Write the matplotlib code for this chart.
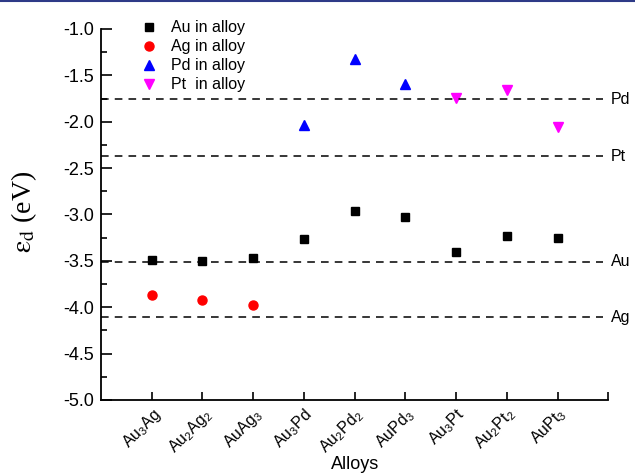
import matplotlib
matplotlib.use("Agg")
import matplotlib.pyplot as plt
from matplotlib.lines import Line2D
from matplotlib.ticker import MultipleLocator, FormatStrFormatter

plt.rcParams['font.family'] = ['Liberation Sans', 'DejaVu Sans']
plt.rcParams['mathtext.fontset'] = 'stix'

alloys = [r'Au$_\mathregular{3}$Ag', r'Au$_\mathregular{2}$Ag$_\mathregular{2}$', r'AuAg$_\mathregular{3}$',
          r'Au$_\mathregular{3}$Pd', r'Au$_\mathregular{2}$Pd$_\mathregular{2}$', r'AuPd$_\mathregular{3}$',
          r'Au$_\mathregular{3}$Pt', r'Au$_\mathregular{2}$Pt$_\mathregular{2}$', r'AuPt$_\mathregular{3}$']
au_x = [1, 2, 3, 4, 5, 6, 7, 8, 9]
au_vals = [-3.49, -3.50, -3.47, -3.26, -2.96, -3.03, -3.41, -3.23, -3.25]
ag_x = [1, 2, 3]
ag_vals = [-3.87, -3.92, -3.98]
pd_x = [4, 5, 6]
pd_vals = [-2.04, -1.32, -1.59]
pt_x = [7, 8, 9]
pt_vals = [-1.74, -1.66, -2.06]
ref_names = ['Pd', 'Pt', 'Au', 'Ag']
ref_vals = [-1.76, -2.37, -3.51, -4.11]

fig = plt.figure(figsize=(6.35, 4.75), dpi=100)
ax = fig.add_axes([0.159, 0.158, 0.799, 0.781])

ax.plot(au_x, au_vals, 's', color='black', ms=6, ls='none', label='Au in alloy')
ax.plot(ag_x, ag_vals, 'o', color='red', ms=6.5, ls='none', label='Ag in alloy')
ax.plot(pd_x, pd_vals, '^', color='blue', ms=7, ls='none', label='Pd in alloy')
ax.plot(pt_x, pt_vals, 'v', color='magenta', ms=7, ls='none', label='Pt  in alloy')

for name, v in zip(ref_names, ref_vals):
    ax.axhline(v, color='black', ls=(0, (5, 4)), lw=1.1, xmax=0.99)
    ax.text(10.05, v, name, fontsize=11.5, va='center', ha='left', clip_on=False)

ax.set_xlim(0, 10)
ax.set_ylim(-5.0, -1.0)
ax.set_xticks(list(range(1, 11)))
ax.set_xticklabels(alloys + [''], rotation=45, ha='right', va='top', rotation_mode='anchor', fontsize=11.5)
ax.yaxis.set_major_locator(MultipleLocator(0.5))
ax.yaxis.set_minor_locator(MultipleLocator(0.25))
ax.yaxis.set_major_formatter(FormatStrFormatter('%.1f'))
ax.tick_params(axis='y', which='major', direction='in', length=8, width=1.2, labelsize=13, pad=5)
ax.tick_params(axis='y', which='minor', direction='in', length=4, width=1.2)
ax.tick_params(axis='x', which='major', direction='in', length=6, width=1.2, pad=4)

for s in ['top', 'right']:
    ax.spines[s].set_visible(False)
for s in ['left', 'bottom']:
    ax.spines[s].set_linewidth(1.3)

ax.set_ylabel(r'$\mathrm{ε}_\mathrm{d}$ (eV)', fontsize=20, family='Liberation Serif')
ax.yaxis.set_label_coords(-0.122, 0.507)
ax.set_xlabel('Alloys', fontsize=13)
ax.xaxis.set_label_coords(0.5, -0.15)

leg = ax.legend(loc='upper left', bbox_to_anchor=(0.06, 1.045), frameon=False, fontsize=11.5,
                handletextpad=0.8, labelspacing=0.25, handlelength=1.2, borderpad=0)

fig.add_artist(Line2D([0, 1], [0.998, 0.998], transform=fig.transFigure, color='#2e3a87', lw=1.5))

fig.savefig('out.png', dpi=100)
